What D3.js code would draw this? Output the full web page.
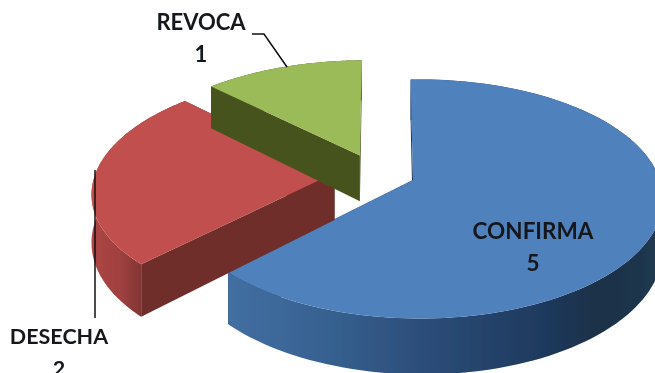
<!DOCTYPE html>
<html>
<head>
<meta charset="utf-8">
<script src="https://cdn.jsdelivr.net/npm/d3@7/dist/d3.min.js"></script>
<style>
html,body{margin:0;padding:0;background:#fff;overflow:hidden}
text{font-family:Lato,"Open Sans",sans-serif;font-weight:700;font-size:22.5px;fill:#14181c;text-anchor:middle}
</style>
</head>
<body>
<svg id="c" width="655" height="373"></svg>
<script>
const categories = ["CONFIRMA", "DESECHA", "REVOCA"];
const values = [5, 2, 1];
const topColors = ["#4f81bd", "#c0504d", "#9bbb59"];
const edgeColors = ["#1d3550", "#6f2e2c", "#47521d"];
const wallStops = [
  [[226, "#436fa3"], [330, "#36608f"], [430, "#2b4c78"], [540, "#1f3a5e"], [600, "#1c3048"], [655, "#20384f"]],
  [[92, "#ad4644"], [120, "#a04040"], [143, "#7f3432"]],
  [[200, "#47521d"], [362, "#47521d"]]
];

const W = 655, H = 373;
// perspective parameters of the tilted disc
const cam = {cx: 413, cy: 180, R: 241, k: 115.9, p: 0.148, shear: 2.5, depth: 47.4, explode: 0.17, rot: -0.8 * Math.PI / 180};
// the main slice is drawn on its own fitted ellipse, with the apex pulled off-centre
const disc = {ex: 420, ey: 199, rx: 243, ry: 119.5, depth: 47};

const svg = d3.select("#c");
const defs = svg.append("defs");
defs.append("filter").attr("id", "soft").attr("x", "-5%").attr("y", "-5%").attr("width", "110%").attr("height", "110%")
  .append("feGaussianBlur").attr("stdDeviation", 0.45);
const root = svg.append("g").attr("filter", "url(#soft)");

const arcs = d3.pie().sort(null).value(d => d)
  .startAngle(cam.rot).endAngle(cam.rot + 2 * Math.PI)(values);

const dir = a => [Math.sin(a), -Math.cos(a)];
const mid = d => (d.startAngle + d.endAngle) / 2;
const base = dir(mid(arcs[0]));

const project = (x, y, z) => {
  const w = 1 - cam.p * y;
  return [cam.cx + (cam.R * x + cam.shear * y) / w, cam.cy + (cam.k * y + z * cam.depth) / w];
};
// projective map of the unit disc onto the ellipse, sending its centre to the apex
const ax = (cam.cx - disc.ex) / disc.rx, ay = (cam.cy - disc.ey) / disc.ry;
const a2 = ax * ax + ay * ay, sq = Math.sqrt(1 - a2);
const projectMain = (x, y, z) => {
  const dot = ax * x + ay * y, w = 1 + dot, c = (1 - sq) * dot / a2;
  const u = (ax + sq * x + c * ax) / w, v = (ay + sq * y + c * ay) / w;
  return [disc.ex + disc.rx * u, disc.ey + disc.ry * v + z * disc.depth / w];
};
const line = d3.line();

arcs.forEach((d, i) => {
  const m = dir(mid(d));
  const ox = cam.explode * (m[0] - base[0]), oy = cam.explode * (m[1] - base[1]);
  const proj = i === 0 ? projectMain : project;
  const at = (a, r, z) => { const v = dir(a); return proj(ox + r * v[0], oy + r * v[1], z); };
  const steps = d3.range(0, 121).map(t => d.startAngle + (d.endAngle - d.startAngle) * t / 120);

  const gid = "wall" + i;
  const grad = defs.append("linearGradient").attr("id", gid)
    .attr("gradientUnits", "userSpaceOnUse")
    .attr("x1", wallStops[i][0][0]).attr("x2", wallStops[i][wallStops[i].length - 1][0])
    .attr("y1", 0).attr("y2", 0);
  const x0 = wallStops[i][0][0], x1 = wallStops[i][wallStops[i].length - 1][0];
  wallStops[i].forEach(s => grad.append("stop").attr("offset", (s[0] - x0) / (x1 - x0)).attr("stop-color", s[1]));

  const g = root.append("g").attr("class", "slice");
  // radial walls
  [d.startAngle, d.endAngle].forEach(a => {
    g.append("path").attr("fill", edgeColors[i]).attr("d", line([
      at(a, 0, 0), at(a, 1, 0), at(a, 1, 1), at(a, 0, 1)
    ]) + "Z");
  });
  // outer curved wall
  g.append("path").attr("fill", `url(#${gid})`).attr("d", line(
    steps.map(a => at(a, 1, 0)).concat(steps.slice().reverse().map(a => at(a, 1, 1)))
  ) + "Z");
  // top face
  g.append("path").attr("fill", topColors[i]).attr("d", line(
    [at(0, 0, 0)].concat(steps.map(a => at(a, 1, 0)))
  ) + "Z");
});

// leader lines
const leaders = [
  [[252, 34], [264, 34], [287, 67]],
  [[95, 170], [95, 318]]
];
root.selectAll("path.leader").data(leaders).join("path").attr("class", "leader")
  .attr("fill", "none").attr("stroke", "#111").attr("stroke-width", 1.5)
  .attr("d", d => line(d));

// labels: x, category baseline, value baseline, font size
const labelPos = [[533, 239, 271, 22.5], [59, 344, 376, 21.5], [201, 30, 62, 22]];
categories.forEach((c, i) => {
  root.append("text").attr("x", labelPos[i][0]).attr("y", labelPos[i][1]).style("font-size", labelPos[i][3] + "px").text(c);
  root.append("text").attr("x", labelPos[i][0]).attr("y", labelPos[i][2]).style("font-size", labelPos[i][3] + "px").text(values[i]);
});
</script>
</body>
</html>
